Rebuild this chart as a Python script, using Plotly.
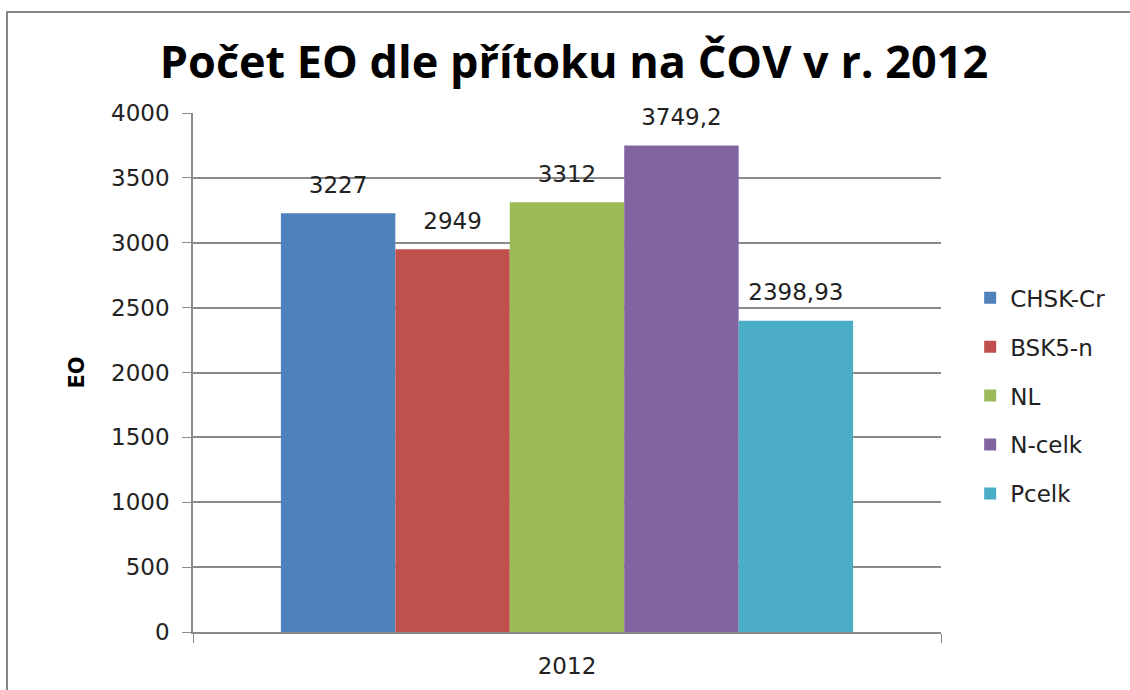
import plotly.graph_objects as go

categories = ["2012"]
series_names = ["CHSK-Cr", "BSK5-n", "NL", "N-celk", "Pcelk"]
series_values = [3227, 2949, 3312, 3749.2, 2398.93]
series_labels = ["3227", "2949", "3312", "3749,2", "2398,93"]
colors = ["#4F81BD", "#C0504D", "#9BBB59", "#8064A2", "#4BACC6"]
y_ticks = [0, 500, 1000, 1500, 2000, 2500, 3000, 3500, 4000]

FONT = "DejaVu Sans"
GRID = "#8a8a8a"
GAP = 0.235

fig = go.Figure()
for name, val, col in zip(series_names, series_values, colors):
    fig.add_trace(go.Bar(
        x=categories, y=[val], name=name, marker_color=col,
        marker_line_width=0, legendgroup=name, hoverinfo="name+y",
        offsetgroup=name,
    ))

# data labels: text scatter traces sharing each bar's offset group
for name, val, lab in zip(series_names, series_values, series_labels):
    fig.add_trace(go.Scatter(
        x=categories, y=[val], mode="markers+text", text=[lab],
        textposition="top center",
        textfont=dict(family=FONT, size=23, color="#222222"),
        marker=dict(size=22, color="rgba(0,0,0,0)"),
        showlegend=False, hoverinfo="skip", cliponaxis=False,
        offsetgroup=name, legendgroup=name,
    ))

fig.update_layout(
    width=1130, height=690,
    paper_bgcolor="white", plot_bgcolor="white",
    margin=dict(l=193, r=189, t=113, b=58),
    barmode="group", bargap=GAP, bargroupgap=0,
    scattermode="group", scattergap=GAP,
    title=dict(text="<b>Počet EO dle přítoku na ČOV v r. 2012</b>",
               x=0.508, xanchor="center", y=0.910, yanchor="middle",
               font=dict(family="Open Sans", size=45, color="#000000")),
    font=dict(family=FONT, size=20, color="#222222"),
    showlegend=True,
    legend=dict(x=1.039, xanchor="left", y=0.455, yanchor="middle",
                font=dict(family=FONT, size=23, color="#222222"),
                tracegroupgap=16, itemsizing="constant"),
    xaxis=dict(type="category", showgrid=False, showline=True,
               linecolor=GRID, linewidth=1.5, ticks="outside",
               tickson="boundaries", ticklen=9, tickcolor=GRID,
               ticklabelstandoff=13,
               tickfont=dict(family=FONT, size=23, color="#222222")),
    yaxis=dict(range=[0, 4000], tickvals=y_ticks, showgrid=True,
               gridcolor=GRID, gridwidth=1.5, showline=True,
               linecolor=GRID, linewidth=1.5, ticks="outside",
               ticklen=9, tickcolor=GRID, zeroline=False,
               ticklabelstandoff=8,
               tickfont=dict(family=FONT, size=23, color="#222222"),
               title=dict(text="<b>EO</b>", standoff=21,
                          font=dict(family=FONT, size=21, color="#000000"))),
    shapes=[dict(type="rect", xref="paper", yref="paper",
                 x0=(7 - 193) / 748, x1=(1150 - 193) / 748,
                 y0=(632 - 710) / 519, y1=(632 - 12) / 519,
                 line=dict(color="#868686", width=2), layer="below")],
)

fig.write_html("out.html", config={"displayModeBar": False},
               post_script="document.body.style.margin='0';")
